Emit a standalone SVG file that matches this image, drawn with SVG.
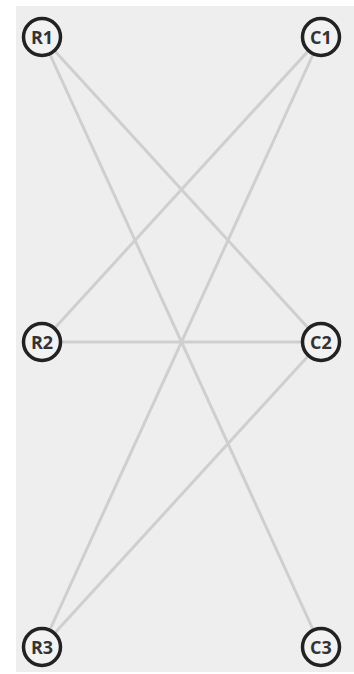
<svg xmlns="http://www.w3.org/2000/svg" width="354" height="674" viewBox="0 0 354 674">
<style>
.edge{stroke:#cfcfcf;stroke-width:3;fill:none}
.node circle{fill:#f2f2f2;stroke:#222;stroke-width:3.5}
.node text{font-family:"Open Sans","DejaVu Sans",sans-serif;font-weight:bold;font-size:18px;fill:#333;text-anchor:middle;dominant-baseline:central}
</style>
<rect x="0" y="0" width="354" height="674" fill="#fff"/>
<rect x="16" y="6" width="338" height="666" fill="#eeeeee"/>
<g id="edges">
<line class="edge" x1="42" y1="37" x2="321" y2="342"/>
<line class="edge" x1="42" y1="37" x2="321" y2="647"/>
<line class="edge" x1="42" y1="342" x2="321" y2="37"/>
<line class="edge" x1="42" y1="342" x2="321" y2="342"/>
<line class="edge" x1="42" y1="647" x2="321" y2="37"/>
<line class="edge" x1="42" y1="647" x2="321" y2="342"/>
</g>
<g id="R1" class="node"><circle cx="42" cy="37" r="18.5"/><text x="42" y="37">R1</text></g>
<g id="C1" class="node"><circle cx="321" cy="37" r="18.5"/><text x="321" y="37">C1</text></g>
<g id="R2" class="node"><circle cx="42" cy="342" r="18.5"/><text x="42" y="342">R2</text></g>
<g id="C2" class="node"><circle cx="321" cy="342" r="18.5"/><text x="321" y="342">C2</text></g>
<g id="R3" class="node"><circle cx="42" cy="647" r="18.5"/><text x="42" y="647">R3</text></g>
<g id="C3" class="node"><circle cx="321" cy="647" r="18.5"/><text x="321" y="647">C3</text></g>
</svg>
